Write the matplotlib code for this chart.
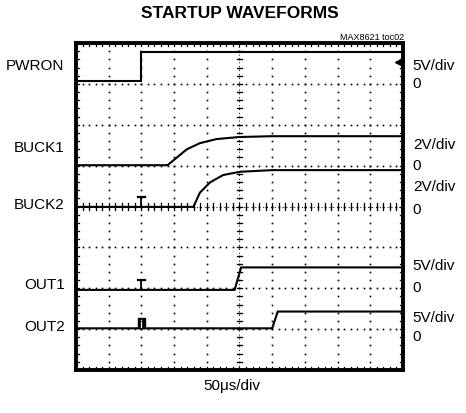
import numpy as np
import matplotlib
matplotlib.use("Agg")
import matplotlib.pyplot as plt
from matplotlib.patches import Rectangle

plt.rcParams['font.family'] = ['Liberation Sans Narrow', 'Liberation Sans', 'DejaVu Sans']

# traces: time (div) / level (div)
names = ["PWRON", "BUCK1", "BUCK2", "OUT1", "OUT2"]
pwron_t = [0, 2.0, 2.0, 10]
pwron_v = [7.07, 7.07, 7.79, 7.79]
buck1_t = [0, 2.8, 3.39, 3.79, 4.30, 5.0, 6.0, 10]
buck1_v = [5.01, 5.01, 5.40, 5.55, 5.65, 5.70, 5.72, 5.72]
buck2_t = [0, 3.59, 3.79, 4.10, 4.50, 5.02, 6.0, 10]
buck2_v = [3.99, 3.99, 4.34, 4.59, 4.77, 4.85, 4.89, 4.89]
out1_t = [0, 4.85, 5.05, 10]
out1_v = [1.96, 1.96, 2.51, 2.51]
out2_t = [0, 6.0, 6.17, 10]
out2_v = [1.02, 1.02, 1.43, 1.43]

label_y = [7.45, 5.45, 4.05, 2.10, 1.07]
scale_txt = ["5V/div", "2V/div", "2V/div", "5V/div", "5V/div"]
scale_y = [7.45, 5.52, 4.50, 2.57, 1.30]
zero_y = [7.02, 5.02, 3.95, 2.03, 0.83]

fig = plt.figure(figsize=(4.66, 4.14), dpi=100)
ax = fig.add_axes([76/466, 1-371/414, 327/466, 327/414])
ax.set_xlim(0, 10)
ax.set_ylim(0, 8)
ax.set_xticks([])
ax.set_yticks([])
for s in ax.spines.values():
    s.set_linewidth(2.8)

# dotted graticule
dots = np.arange(0, 10.01, 0.2)
for gx in range(1, 10):
    ax.plot(np.full(41, gx), np.arange(0, 8.01, 0.2), ls='none', marker='s',
            ms=1.2, color='black', mew=0)
for gy in range(1, 8):
    ax.plot(dots, np.full(len(dots), gy), ls='none', marker='s',
            ms=1.2, color='black', mew=0)

# small ticks on frame and on centre cross
tk = 0.08
for x in dots:
    ax.plot([x, x], [8, 8-tk], color='black', lw=0.9)
    ax.plot([x, x], [0, tk], color='black', lw=0.9)
    ax.plot([x, x], [4-tk, 4+tk], color='black', lw=0.9)
for y in np.arange(0, 8.01, 0.2):
    ax.plot([0, tk], [y, y], color='black', lw=0.9)
    ax.plot([10, 10-tk], [y, y], color='black', lw=0.9)
    ax.plot([5-tk, 5+tk], [y, y], color='black', lw=0.9)
ax.plot([5, 5], [0, 8], color='black', lw=0.7, ls=(0, (1, 3)))
ax.plot([0, 10], [4, 4], color='black', lw=0.7, ls=(0, (1, 3)))

# waveforms
for t, v in [(pwron_t, pwron_v), (buck1_t, buck1_v), (buck2_t, buck2_v),
             (out1_t, out1_v), (out2_t, out2_v)]:
    ax.plot(t, v, color='black', lw=1.5, solid_joinstyle='miter')

# ground markers
for y0 in [buck2_v[0], out1_v[0]]:
    ax.plot([2.0, 2.0], [y0, y0+0.24], color='black', lw=1.3)
    ax.plot([1.89, 2.11], [y0+0.24, y0+0.24], color='black', lw=1.6)
ax.add_patch(Rectangle((1.9, out2_v[0]), 0.2, 0.25, color='black'))
ax.plot([2.0, 2.0], [out2_v[0]+0.04, out2_v[0]+0.15], color='white', lw=0.9)
ax.plot([2.0], [out2_v[0]+0.2], marker='s', ms=0.9, color='white', mew=0)
ax.plot([9.85], [7.53], marker='<', color='black', ms=4.5)

# labels
for n, y in zip(names, label_y):
    ax.text(-0.35, y, n, ha='right', va='center', fontsize=11, clip_on=False)
for s, y in zip(scale_txt, scale_y):
    ax.text(10.3, y, s, ha='left', va='center', fontsize=11, clip_on=False)
for y in zero_y:
    ax.text(10.3, y, "0", ha='left', va='center', fontsize=11, clip_on=False)

fig.text(240/466, 1-14/414, "STARTUP WAVEFORMS", ha='center', va='center',
         fontsize=12.5, fontweight='bold')
fig.text(404/466, 1-37/414, "MAX8621 toc02", ha='right', va='center', fontsize=6.5)
fig.text(232/466, 1-386/414, "50\u03bcs/div", ha='center', va='center', fontsize=11)

fig.savefig("out.png", dpi=100)
